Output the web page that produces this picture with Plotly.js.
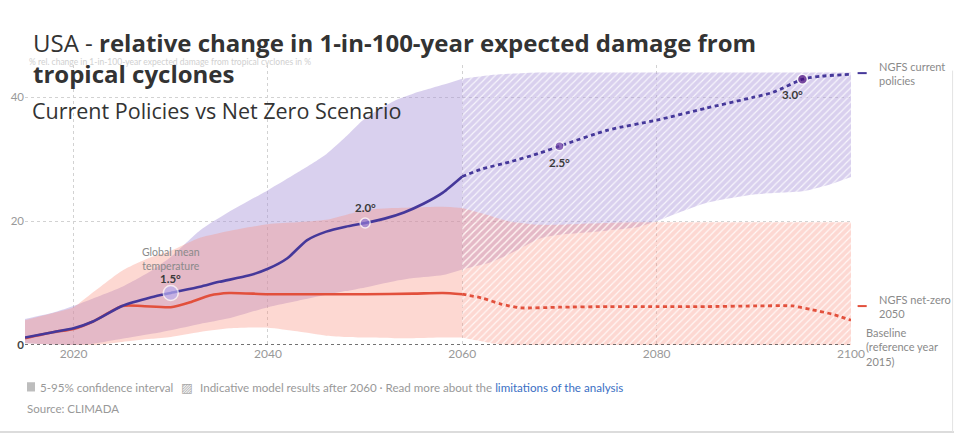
<!DOCTYPE html>
<html><head><meta charset="utf-8">
<script src="https://cdn.plot.ly/plotly-3.0.1.min.js"></script>
<style>html,body{margin:0;padding:0;background:#fff;} #chart{width:954px;height:435px;}</style>
</head><body><div id="chart"></div>
<script>
// ---- data ----
const bandYears = [2015,2018,2020,2022,2025,2028,2030,2033,2036,2040,2043,2046,2048,2050,2053,2055,2058,2060,2063,2065,2068,2070,2073,2075,2078,2080,2083,2085,2088,2090,2093,2095,2098,2100];
const cpUpper = [4.2,5.3,6.3,7.5,9.4,12.0,14.2,18.5,21.5,25.0,27.8,30.8,33.6,36.6,39.4,40.6,42.0,43.0,43.6,43.8,44.0,44.0,44.0,44.0,44.0,44.0,44.0,44.0,44.0,44.0,44.0,44.0,44.0,44.0];
const cpLower = [0.3,0.1,0.0,0.2,1.0,1.8,2.4,3.4,4.3,6.1,7.1,8.1,8.7,9.3,10.3,10.8,11.3,12.2,13.4,14.8,17.2,17.8,18.2,18.5,19.0,20.0,21.8,22.9,23.8,24.3,24.6,24.8,26.0,27.1];
const nzUpper = [4.0,5.2,6.1,8.5,12.0,14.2,15.2,17.3,18.4,19.5,19.8,20.2,21.0,21.8,22.1,22.2,22.3,22.1,20.8,19.9,19.4,19.4,19.6,19.7,19.8,19.8,19.8,19.8,19.8,19.8,19.8,19.8,19.8,19.8];
const nzLower = [0.3,0.1,0.0,0.0,0.5,1.0,1.3,2.1,2.7,2.8,2.2,1.5,1.3,1.2,1.1,1.1,1.2,1.2,0.3,0.0,0.0,0.0,0.0,0.0,0.0,0.0,0.0,0.0,0.0,0.0,0.0,0.0,0.0,0.0];

const cpYears = [2015,2018,2020,2022,2025,2028,2030,2033,2035,2038,2040,2042,2044,2046,2048,2050,2052,2054,2056,2058,2060,2062,2065,2068,2070,2075,2080,2085,2090,2092,2095,2097,2100];
const cpValues = [1.2,2.1,2.7,3.8,6.3,7.7,8.4,9.4,10.2,11.2,12.3,14.0,16.9,18.3,19.1,19.7,20.4,21.4,22.8,24.6,27.2,28.4,29.6,31.0,32.1,34.7,36.3,38.2,40.0,40.8,42.9,43.4,43.7];

const nzYears = [2015,2018,2020,2022,2025,2027,2030,2032,2034,2036,2040,2045,2050,2055,2058,2060,2062,2064,2066,2070,2075,2080,2085,2090,2094,2096,2098,2100];
const nzValues = [1.1,2.1,2.6,3.8,6.3,6.3,6.1,6.9,8.0,8.4,8.2,8.2,8.2,8.3,8.4,8.2,7.6,6.6,6.0,6.1,6.2,6.2,6.2,6.3,6.3,5.7,5.0,4.0];

const tempYears = [2030, 2050, 2070, 2095];
const tempValues = [8.4, 19.7, 32.1, 42.9];
const tempLabels = ['1.5°', '2.0°', '2.5°', '3.0°'];
const tempColors = ['#b8aef0', '#8f79d4', '#6a3ca2', '#4b0d7d'];
const tempSizes = [15, 10, 9, 10];

const splitYear = 2060;
const xTicks = [2020, 2040, 2060, 2080, 2100];
const yTicks = [0, 20, 40];
const yTickText = ['<span style="color:#444"><b>0</b></span>', '20', '40'];

const purpleLine = '#45389a', redLine = '#e2503c';
const purpleFill = 'rgba(170,150,218,0.45)';
const pinkFill = 'rgba(249,140,123,0.34)';
const FONT = 'Lato, "Open Sans", sans-serif';

function part(xs, ys, before) {
  const ox = [], oy = [];
  xs.forEach((x, i) => { if (before ? x <= splitYear : x >= splitYear) { ox.push(x); oy.push(ys[i]); } });
  return {x: ox, y: oy};
}

const traces = [];
function band(upper, lower, fill, before, name) {
  const lo = part(bandYears, lower, before), up = part(bandYears, upper, before);
  traces.push({x: lo.x, y: lo.y, type: 'scatter', mode: 'lines', line: {width: 0, shape: 'spline', smoothing: 0.6}, hoverinfo: 'skip', showlegend: false});
  const t = {x: up.x, y: up.y, type: 'scatter', mode: 'lines', fill: 'tonexty', fillcolor: fill, line: {width: 0, shape: 'spline', smoothing: 0.6}, name: name, showlegend: false, hoverinfo: 'skip'};
  if (!before) t.fillpattern = {shape: '/', bgcolor: fill, fgcolor: '#ffffff', fgopacity: 0.8, size: 5, solidity: 0.22};
  traces.push(t);
}
band(cpUpper, cpLower, purpleFill, true, 'CP band');
band(cpUpper, cpLower, purpleFill, false, 'CP band hatched');
band(nzUpper, nzLower, pinkFill, true, 'NZ band');
band(nzUpper, nzLower, pinkFill, false, 'NZ band hatched');

function line(xs, ys, color) {
  const a = part(xs, ys, true), b = part(xs, ys, false);
  traces.push({x: a.x, y: a.y, type: 'scatter', mode: 'lines', line: {color: color, width: 2.6, shape: 'spline', smoothing: 0.6}, showlegend: false});
  traces.push({x: b.x, y: b.y, type: 'scatter', mode: 'lines', line: {color: color, width: 2.8, dash: '4px,3.5px', shape: 'spline', smoothing: 0.6}, showlegend: false});
}
line(nzYears, nzValues, redLine);
line(cpYears, cpValues, purpleLine);

traces.push({x: tempYears, y: tempValues, type: 'scatter', mode: 'markers',
  marker: {color: tempColors, size: tempSizes, line: {color: '#ffffff', width: 1.5}}, showlegend: false});

const annotations = [];
const labelShift = [[0, 14], [0, 15], [0, -16], [-10, -15]];
tempYears.forEach((yr, i) => {
  annotations.push({x: yr, y: tempValues[i], xref: 'x', yref: 'y', text: '<b>' + tempLabels[i] + '</b>', showarrow: false,
    xshift: labelShift[i][0], yshift: labelShift[i][1], font: {family: FONT, size: 11.5, color: '#3a3a3a'}});
});
annotations.push({x: tempYears[0], y: tempValues[0], xref: 'x', yref: 'y', text: 'Global mean<br>temperature', showarrow: false,
  yshift: 34, font: {family: FONT, size: 10.5, color: '#8a8a8a'}});

// faint axis caption partly behind title
annotations.push({xref: 'paper', yref: 'paper', x: 0.002, y: 1.012, xanchor: 'left', yanchor: 'middle', showarrow: false,
  text: '% rel. change in 1-in-100-year expected damage from tropical cyclones in %', font: {family: FONT, size: 8.5, color: '#d0d0d0'}});

// subtitle (third title line)
annotations.push({xref: 'paper', yref: 'paper', x: 5/826, y: (345 - 110) / 280, xanchor: 'left', yanchor: 'middle', showarrow: false,
  text: 'Current Policies vs Net Zero Scenario', font: {family: '"Open Sans", sans-serif', size: 21.5, color: '#333'}});

// right-hand labels
annotations.push({xref: 'paper', yref: 'paper', x: 1.0315, y: 0.968, xanchor: 'left', yanchor: 'middle', align: 'left', showarrow: false,
  text: 'NGFS current<br>policies', font: {family: FONT, size: 11, color: '#8a8a8a'}});
annotations.push({xref: 'paper', yref: 'paper', x: 1.0315, y: 0.1375, xanchor: 'left', yanchor: 'middle', align: 'left', showarrow: false,
  text: 'NGFS net-zero<br>2050', font: {family: FONT, size: 11, color: '#8a8a8a'}});
annotations.push({xref: 'paper', yref: 'paper', x: 1.0157, y: -0.007, xanchor: 'left', yanchor: 'middle', align: 'left', showarrow: false,
  text: 'Baseline<br>(reference year<br>2015)', font: {family: FONT, size: 11, color: '#8a8a8a'}});

// footer
annotations.push({xref: 'paper', yref: 'paper', x: 0.0155, y: -0.15, xanchor: 'left', yanchor: 'middle', showarrow: false,
  text: '5-95% confidence interval', font: {family: FONT, size: 11.6, color: '#999'}});
annotations.push({xref: 'paper', yref: 'paper', x: 0.187, y: -0.15, xanchor: 'left', yanchor: 'middle', showarrow: false,
  text: '▨', font: {family: 'DejaVu Sans', size: 12.5, color: '#aaa'}});
annotations.push({xref: 'paper', yref: 'paper', x: 0.209, y: -0.15, xanchor: 'left', yanchor: 'middle', showarrow: false,
  text: 'Indicative model results after 2060 · Read more about the <span style="color:#3b6fc4">limitations of the analysis</span>', font: {family: FONT, size: 11.6, color: '#999'}});
annotations.push({xref: 'paper', yref: 'paper', x: 0.0, y: -0.225, xanchor: 'left', yanchor: 'middle', showarrow: false,
  text: 'Source: CLIMADA', font: {family: FONT, size: 11.5, color: '#999'}});

const shapes = [
  {type: 'line', xref: 'paper', yref: 'y', x0: 0, x1: 1, y0: 0, y1: 0, line: {color: '#444', width: 1.5, dash: 'dot'}},
  {type: 'line', xref: 'paper', yref: 'paper', x0: 1.008, x1: 1.019, y0: 0.971, y1: 0.971, line: {color: purpleLine, width: 2}},
  {type: 'line', xref: 'paper', yref: 'paper', x0: 1.008, x1: 1.019, y0: 0.139, y1: 0.139, line: {color: redLine, width: 2}},
  {type: 'rect', xref: 'paper', yref: 'paper', x0: 0.0024, x1: 0.0121, y0: -0.133, y1: -0.166, fillcolor: '#bdbdbd', line: {width: 0}},
  {type: 'line', xref: 'paper', yref: 'paper', x0: -0.04, x1: 1.125, y0: -0.311, y1: -0.311, line: {color: '#d0d0d0', width: 1.5}},
  {type: 'line', xref: 'paper', yref: 'paper', x0: 1.123, x1: 1.123, y0: -0.311, y1: 0.98, line: {color: '#e3e3e3', width: 1}}
];

const layout = {
  width: 954, height: 435,
  margin: {l: 25, r: 103, t: 65, b: 90},
  paper_bgcolor: '#fff', plot_bgcolor: 'rgba(0,0,0,0)',
  showlegend: false,
  title: {
    text: 'USA - <b>relative change in 1-in-100-year expected damage from</b><br><b>tropical cyclones</b>',
    x: 33/954, xref: 'container', xanchor: 'left',
    y: 0.881, yref: 'container', yanchor: 'top',
    font: {family: '"Open Sans", sans-serif', size: 24, color: '#333'}
  },
  xaxis: {range: [2015, 2100], tickvals: xTicks, showgrid: true, gridcolor: '#d2d2d2', griddash: 'dot', gridwidth: 1,
    zeroline: false, showline: false, ticks: '', tickfont: {family: FONT, size: 12, color: '#999'}, fixedrange: true},
  yaxis: {range: [0, 45.2], tickvals: yTicks, ticktext: yTickText, showgrid: true, gridcolor: '#d2d2d2', griddash: 'dot', gridwidth: 1,
    zeroline: false, showline: false, ticks: '', tickfont: {family: FONT, size: 11.5, color: '#999'}, fixedrange: true},
  annotations: annotations,
  shapes: shapes
};

Plotly.newPlot('chart', traces, layout, {displayModeBar: false, staticPlot: true});
</script></body></html>
